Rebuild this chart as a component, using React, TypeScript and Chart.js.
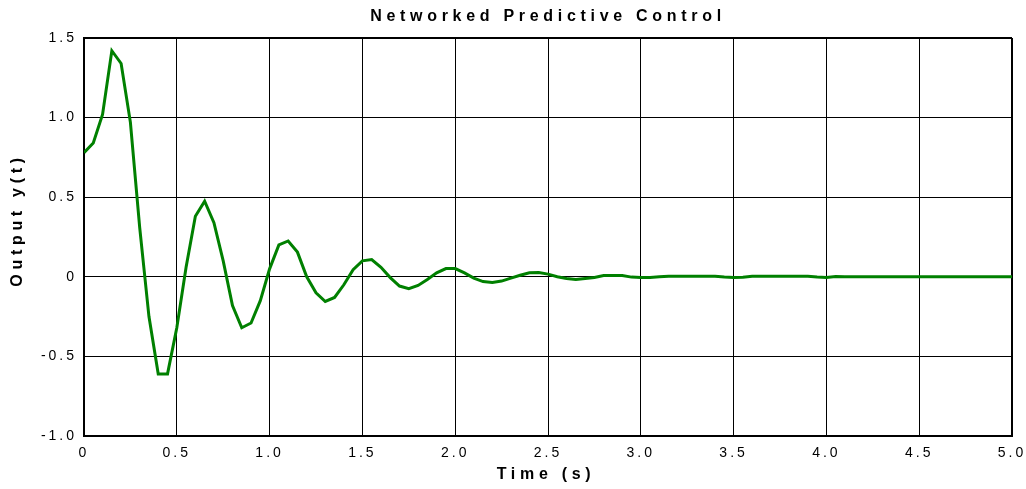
import React, { useEffect, useRef } from 'react';
import { Chart, registerables } from 'chart.js';

Chart.register(...registerables);

const timeValues = [
  0, 0.05, 0.1, 0.15, 0.2, 0.25, 0.3, 0.35, 0.4, 0.45,
  0.5, 0.55, 0.6, 0.65, 0.7, 0.75, 0.8, 0.85, 0.9, 0.95,
  1.0, 1.05, 1.1, 1.15, 1.2, 1.25, 1.3, 1.35, 1.4, 1.45,
  1.5, 1.55, 1.6, 1.65, 1.7, 1.75, 1.8, 1.85, 1.9, 1.95,
  2.0, 2.05, 2.1, 2.15, 2.2, 2.25, 2.3, 2.35, 2.4, 2.45,
  2.5, 2.55, 2.6, 2.65, 2.7, 2.75, 2.8, 2.85, 2.9, 2.95,
  3.0, 3.05, 3.1, 3.15, 3.2, 3.25, 3.3, 3.35, 3.4, 3.45,
  3.5, 3.55, 3.6, 3.65, 3.7, 3.75, 3.8, 3.85, 3.9, 3.95,
  4.0, 4.05, 4.1, 4.15, 4.2, 4.25, 4.3, 4.35, 4.4, 4.45,
  4.5, 4.55, 4.6, 4.65, 4.7, 4.75, 4.8, 4.85, 4.9, 4.95,
  5.0,
];

const outputValues = [
  0.78, 0.84, 1.02, 1.42, 1.34, 0.97, 0.31, -0.25, -0.61, -0.61,
  -0.32, 0.06, 0.38, 0.475, 0.34, 0.1, -0.18, -0.32, -0.29, -0.15,
  0.05, 0.2, 0.225, 0.155, 0.0, -0.1, -0.155, -0.13, -0.05, 0.045,
  0.1, 0.108, 0.06, -0.005, -0.058, -0.075, -0.054, -0.017, 0.025, 0.052,
  0.052, 0.025, -0.008, -0.03, -0.035, -0.027, -0.008, 0.01, 0.025, 0.027,
  0.017, 0.0, -0.01, -0.017, -0.01, -0.004, 0.008, 0.008, 0.008, -0.002,
  -0.004, -0.004, 0.0, 0.004, 0.004, 0.004, 0.004, 0.004, 0.003, -0.002,
  -0.004, -0.003, 0.003, 0.004, 0.004, 0.004, 0.004, 0.004, 0.003, -0.002,
  -0.004, 0.002, 0.001, 0.001, 0.001, 0.001, 0.001, 0.001, 0.001, 0.001,
  0.001, 0.001, 0.001, 0.001, 0.001, 0.001, 0.001, 0.001, 0.001, 0.001,
  0.001,
];

const xTickLabels = ['0', '0.5', '1.0', '1.5', '2.0', '2.5', '3.0', '3.5', '4.0', '4.5', '5.0'];
const yTickLabels = ['-1.0', '-0.5', '0', '0.5', '1.0', '1.5'];

const chartTitle = 'Networked Predictive Control';
const xAxisTitle = 'Time (s)';
const yAxisTitle = 'Output y(t)';

const FONT = '"Liberation Sans", Arial, Helvetica, sans-serif';
const TICK_SPACING = '3px';
const TITLE_SPACING = '4.7px';

const spacingPlugin = {
  id: 'letterSpacingAndTitle',
  beforeUpdate(chart: any) {
    chart.ctx.letterSpacing = TICK_SPACING;
  },
  beforeLayout(chart: any) {
    chart.ctx.letterSpacing = TICK_SPACING;
  },
  beforeDraw(chart: any) {
    const ctx = chart.ctx;
    ctx.letterSpacing = TICK_SPACING;
    for (const s of Object.values(chart.scales) as any[]) {
      if (!s.__patchedTitle) {
        const orig = s.drawTitle.bind(s);
        const shiftX = s.isHorizontal() ? -2 : 0;
        const shiftY = s.isHorizontal() ? 0 : -17;
        s.drawTitle = function () {
          const prev = ctx.letterSpacing;
          ctx.save();
          ctx.translate(shiftX, shiftY);
          ctx.letterSpacing = TITLE_SPACING;
          orig();
          ctx.restore();
          ctx.letterSpacing = prev;
        };
        s.__patchedTitle = true;
      }
    }
  },
  afterDraw(chart: any) {
    const ctx = chart.ctx;
    const area = chart.chartArea;
    ctx.save();
    ctx.letterSpacing = TITLE_SPACING;
    ctx.font = `bold 16px ${FONT}`;
    ctx.fillStyle = '#000';
    ctx.textAlign = 'center';
    ctx.textBaseline = 'middle';
    ctx.fillText(chartTitle, (area.left + area.right) / 2, 17);
    ctx.restore();
    ctx.letterSpacing = TICK_SPACING;
  },
};

export default function App() {
  const canvasRef = useRef<HTMLCanvasElement | null>(null);

  useEffect(() => {
    const canvas = canvasRef.current;
    if (!canvas) return;
    const points = timeValues.map((t, i) => ({ x: t, y: outputValues[i] }));
    const chart = new Chart(canvas, {
      type: 'line',
      data: {
        datasets: [
          {
            data: points,
            borderColor: '#008000',
            borderWidth: 3,
            pointRadius: 0,
            tension: 0,
            fill: false,
          },
        ],
      },
      plugins: [spacingPlugin],
      options: {
        animation: false,
        responsive: false,
        events: [],
        layout: { padding: { top: 38, right: 14, bottom: 0, left: 0 } },
        plugins: {
          legend: { display: false },
          title: { display: false },
          tooltip: { enabled: false },
        },
        scales: {
          x: {
            type: 'linear',
            min: 0,
            max: 5,
            ticks: {
              stepSize: 0.5,
              autoSkip: false,
              maxRotation: 0,
              padding: 9,
              color: '#000',
              font: { family: FONT, size: 14 },
              callback: (_v: any, i: number) => xTickLabels[i],
            },
            grid: {
              color: '#000',
              drawTicks: false,
              lineWidth: (c: any) => (c.tick && c.tick.value === 5 ? 2 : 1),
            },
            border: { color: '#000', width: 2 },
            title: {
              display: true,
              text: xAxisTitle,
              color: '#000',
              font: { family: FONT, size: 16, weight: 'bold', lineHeight: 1 },
              padding: { top: 0, bottom: 6 },
            },
            afterFit: (s: any) => {
              s.height = 53;
              s.paddingLeft = 0;
              s.paddingRight = 0;
            },
          },
          y: {
            type: 'linear',
            min: -1,
            max: 1.5,
            ticks: {
              stepSize: 0.5,
              autoSkip: false,
              padding: 7,
              color: '#000',
              font: { family: FONT, size: 14 },
              callback: (_v: any, i: number) => yTickLabels[i],
            },
            grid: {
              color: '#000',
              drawTicks: false,
              lineWidth: (c: any) => (c.tick && c.tick.value === 1.5 ? 2 : 1),
            },
            border: { color: '#000', width: 2 },
            title: {
              display: true,
              text: yAxisTitle,
              color: '#000',
              font: { family: FONT, size: 16, weight: 'bold', lineHeight: 1 },
              padding: { top: 10, bottom: 0 },
            },
            afterFit: (s: any) => {
              s.width = 84;
              s.paddingTop = 0;
              s.paddingBottom = 0;
            },
          },
        },
      } as any,
    });
    return () => chart.destroy();
  }, []);

  return (
    <div style={{ position: 'fixed', left: 0, top: 0, width: 1026, height: 489, background: '#fff' }}>
      <canvas ref={canvasRef} width={1026} height={489} style={{ display: 'block', width: 1026, height: 489 }} />
    </div>
  );
}
